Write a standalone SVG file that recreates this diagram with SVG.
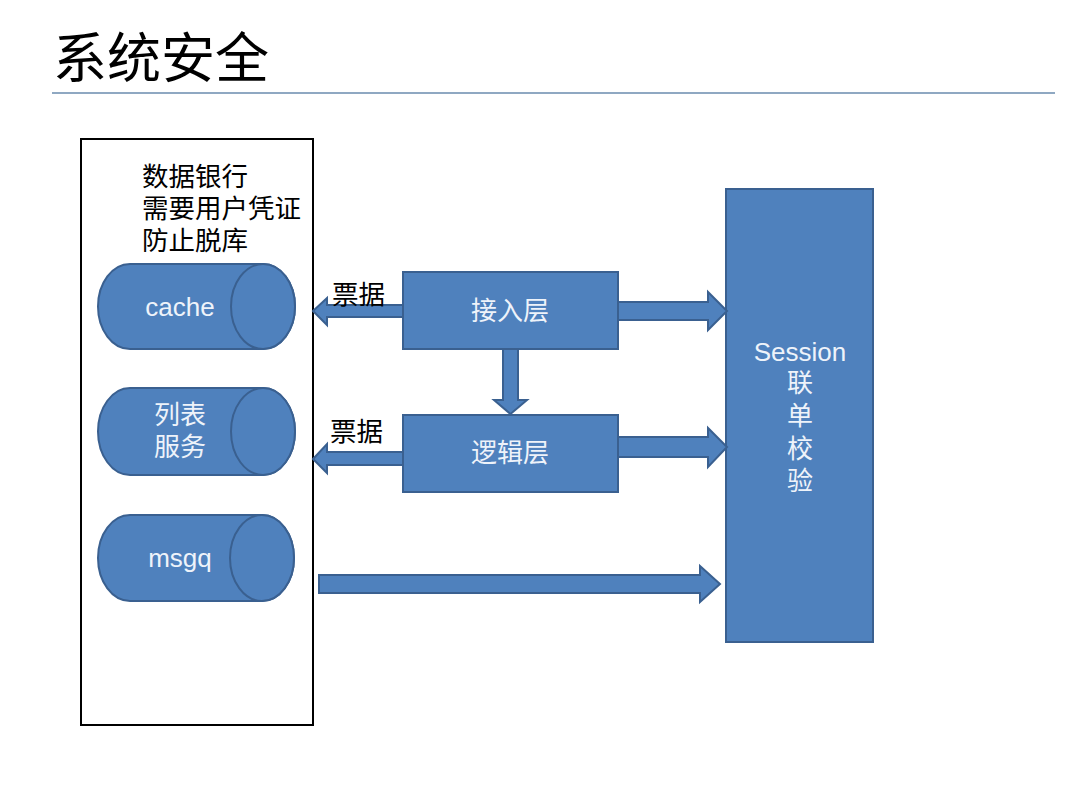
<svg xmlns="http://www.w3.org/2000/svg" width="1080" height="810" viewBox="0 0 1080 810">
<style>
text{font-family:"Liberation Sans","Noto Sans CJK SC",sans-serif}
.cjk{font-family:"Noto Sans CJK SC","Liberation Sans",sans-serif}
.shape{fill:#4f81bd;stroke:#3a6090;stroke-width:2}
.lbl{fill:#eef3fa;font-size:26px;text-anchor:middle}
.blk{fill:#000;font-size:26.5px}
</style>
<rect width="1080" height="810" fill="#fff"/>
<g id="title">
<text class="cjk" x="53" y="78" font-size="54" fill="#000">系统安全</text>
<line x1="52" y1="93" x2="1055" y2="93" stroke="#8fa8c2" stroke-width="2"/>
</g>
<g id="bank">
<rect x="81" y="139" width="232" height="586" fill="none" stroke="#000" stroke-width="2"/>
<text class="blk cjk" x="142" y="186"><tspan x="142">数据银行</tspan><tspan x="142" dy="32">需要用户凭证</tspan><tspan x="142" dy="32">防止脱库</tspan></text>
</g>
<g id="cache">
<path class="shape" d="M130 264 L263 264 A32 42.5 0 0 1 263 349 L130 349 A32 42.5 0 0 1 130 264 Z"/>
<ellipse class="shape" cx="263" cy="306.5" rx="32" ry="42.5"/>
<text class="lbl" x="180" y="316">cache</text>
</g>
<g id="list">
<path class="shape" d="M130 388 L263 388 A32 43.5 0 0 1 263 475 L130 475 A32 43.5 0 0 1 130 388 Z"/>
<ellipse class="shape" cx="263" cy="431.5" rx="32" ry="43.5"/>
<text class="lbl cjk" x="180" y="424"><tspan x="180">列表</tspan><tspan x="180" dy="32">服务</tspan></text>
</g>
<g id="msgq">
<path class="shape" d="M130 515 L262 515 A32 43 0 0 1 262 601 L130 601 A32 43 0 0 1 130 515 Z"/>
<ellipse class="shape" cx="262" cy="558" rx="32" ry="43"/>
<text class="lbl" x="180" y="567">msgq</text>
</g>
<g id="access">
<rect class="shape" x="403" y="272" width="215" height="77"/>
<text class="lbl cjk" x="510" y="320">接入层</text>
</g>
<g id="logic">
<rect class="shape" x="403" y="415" width="215" height="77"/>
<text class="lbl cjk" x="510" y="462">逻辑层</text>
</g>
<g id="session">
<rect class="shape" x="726" y="189" width="147" height="453"/>
<text class="lbl" x="800" y="361"><tspan x="800">Session</tspan><tspan x="800" dy="31" class="cjk">联</tspan><tspan x="800" dy="33" class="cjk">单</tspan><tspan x="800" dy="33" class="cjk">校</tspan><tspan x="800" dy="32" class="cjk">验</tspan></text>
</g>
<g id="connectors">
<path class="shape" d="M403 305 L327 305 L327 298 L313 311 L327 325 L327 317 L403 317 Z"/>
<path class="shape" d="M403 452 L327 452 L327 444 L313 459 L327 473 L327 465 L403 465 Z"/>
<path class="shape" d="M618 302 L708 302 L708 292 L727 311 L708 330 L708 320 L618 320 Z"/>
<path class="shape" d="M618 437 L708 437 L708 428 L727 447 L708 467 L708 457 L618 457 Z"/>
<path class="shape" d="M503 349 L503 400 L494 400 L510.5 414 L527 400 L518 400 L518 349 Z"/>
<path class="shape" d="M319 575 L700 575 L700 566 L720 584 L700 602 L700 593 L319 593 Z"/>
<text class="blk cjk" x="332" y="304">票据</text>
<text class="blk cjk" x="330" y="441">票据</text>
</g>
</svg>
